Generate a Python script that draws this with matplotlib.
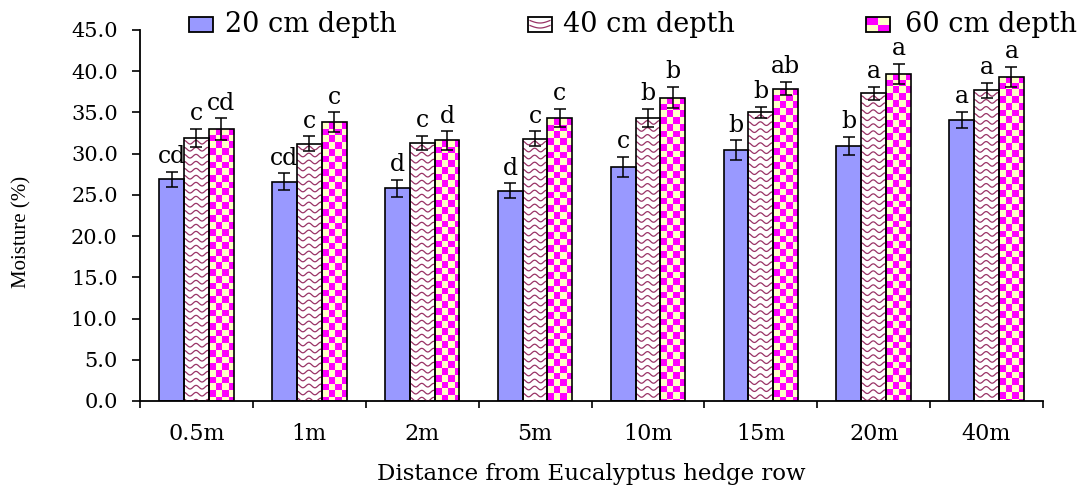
import numpy as np
import matplotlib
matplotlib.use('Agg')
import matplotlib.pyplot as plt
from matplotlib.patches import Rectangle
from matplotlib.colors import ListedColormap
from matplotlib.lines import Line2D

# ---------------- data ----------------
categories = ['0.5m', '1m', '2m', '5m', '10m', '15m', '20m', '40m']
series_names = ['20 cm depth', '40 cm depth', '60 cm depth']
depth20 = [26.9, 26.6, 25.8, 25.5, 28.4, 30.4, 30.9, 34.1]
depth40 = [31.9, 31.2, 31.3, 31.8, 34.3, 35.0, 37.3, 37.7]
depth60 = [33.0, 33.8, 31.6, 34.3, 36.8, 37.9, 39.7, 39.3]
err20 = [0.9, 1.0, 1.0, 0.9, 1.2, 1.2, 1.1, 1.0]
err40 = [1.1, 0.9, 0.9, 0.9, 1.1, 0.7, 0.8, 0.9]
err60 = [1.3, 1.2, 1.1, 1.1, 1.3, 0.8, 1.2, 1.2]
letters20 = ['cd', 'cd', 'd', 'd', 'c', 'b', 'b', 'a']
letters40 = ['c', 'c', 'c', 'c', 'b', 'b', 'a', 'a']
letters60 = ['cd', 'c', 'd', 'c', 'b', 'ab', 'a', 'a']
ytick_values = [0, 5, 10, 15, 20, 25, 30, 35, 40, 45]
xlabel = 'Distance from Eucalyptus hedge row'
ylabel = 'Moisture (%)'

# ---------------- style ----------------
W, H = 1091, 491
DPI = 100
BLUE = '#9999ff'
MAROON = '#993366'
MAGENTA = '#ff00ff'
LYELLOW = '#ffffc8'
SERIF = ['DejaVu Serif']

fig = plt.figure(figsize=(W / DPI, H / DPI), dpi=DPI)
ax_l, ax_r, ax_b, ax_t = 140, 1043, 401, 30
ax = fig.add_axes([ax_l / W, (H - ax_b) / H, (ax_r - ax_l) / W, (ax_b - ax_t) / H])

ncat = len(categories)
ax.set_xlim(0, ncat)
ax.set_ylim(0, 45)

px_x = (ax_r - ax_l) / ncat   # pixels per x unit
px_y = (ax_b - ax_t) / 45.0   # pixels per y unit

bw = 0.22
centers = np.arange(ncat) + 0.5
offsets = [-bw, 0.0, bw]
values = [depth20, depth40, depth60]
errs = [err20, err40, err60]
letters = [letters20, letters40, letters60]

checker_cmap = ListedColormap([LYELLOW, MAGENTA])


def add_checker(rect):
    x0, y0 = rect.get_x(), rect.get_y()
    w, h = rect.get_width(), rect.get_height()
    sq = 6.7
    sqx, sqy = sq / px_x, sq / px_y
    nc = max(1, int(round(w * px_x / sq)))
    nr = int(np.ceil(h * px_y / sq)) + 1
    arr = np.add.outer(np.arange(nr), np.arange(nc)) % 2
    top = y0 + h
    im = ax.imshow(arr, cmap=checker_cmap, vmin=0, vmax=1, origin='upper',
                   extent=[x0, x0 + nc * sqx, top - nr * sqy, top],
                   aspect='auto', interpolation='nearest', zorder=2.5)
    im.set_clip_path(rect)


def add_waves(rect):
    x0, y0 = rect.get_x(), rect.get_y()
    w, h = rect.get_width(), rect.get_height()
    period = 12.0 / px_x
    amp = 1.8 / px_y
    spacing = 7.0 / px_y
    xs = np.linspace(x0, x0 + w, 60)
    for yc in np.arange(y0 + h - spacing * 0.6, y0 - spacing, -spacing):
        ys = yc + amp * np.cos(2 * np.pi * (xs - x0) / period)
        ln, = ax.plot(xs, ys, color=MAROON, lw=0.9, zorder=2.6)
        ln.set_clip_path(rect)


for s in range(3):
    xs = centers + offsets[s]
    face = [BLUE, 'white', LYELLOW][s]
    bars = ax.bar(xs, values[s], width=bw, color=face, edgecolor='none', zorder=2)
    for rect in bars:
        if s == 1:
            add_waves(rect)
        elif s == 2:
            add_checker(rect)
    ax.bar(xs, values[s], width=bw, fill=False, edgecolor='black', lw=1.2, zorder=3)
    ax.errorbar(xs, values[s], yerr=errs[s], fmt='none', ecolor='black',
                elinewidth=1.1, capsize=4, capthick=1.1, zorder=4)
    for x, v, e, t in zip(xs, values[s], errs[s], letters[s]):
        ax.text(x, v + e + 0.45, t, ha='center', va='bottom', fontsize=17,
                family=SERIF, color='black', zorder=5)

ax.set_xlim(0, ncat)
ax.set_ylim(0, 45)

# axes styling
for sp in ['top', 'right']:
    ax.spines[sp].set_visible(False)
for sp in ['left', 'bottom']:
    ax.spines[sp].set_linewidth(1.3)
    ax.spines[sp].set_color('black')

ax.set_yticks(ytick_values)
ax.set_yticklabels([f'{v:.1f}' for v in ytick_values], family=SERIF, fontsize=15)
ax.tick_params(axis='y', direction='out', length=6, width=1.2, pad=10)

ax.set_xticks(np.arange(ncat + 1))
ax.set_xticklabels([''] * (ncat + 1))
ax.tick_params(axis='x', which='major', direction='out', length=5, width=1.2)
ax.set_xticks(centers, minor=True)
ax.set_xticklabels(categories, minor=True, family=SERIF, fontsize=16)
ax.tick_params(axis='x', which='minor', length=0, pad=16)

ax.set_xlabel(xlabel, family=SERIF, fontsize=16.5)
ax.xaxis.set_label_coords(0.5, -(463 - ax_b) / (ax_b - ax_t))
ax.set_ylabel(ylabel, family=['Liberation Serif'], fontsize=15)
ax.yaxis.set_label_coords(-(ax_l - 31) / (ax_r - ax_l), 0.455)

# ---------------- legend (manual, top) ----------------
def fx(px):
    return np.asarray(px) / W


def fy(py):
    return (H - np.asarray(py)) / H


hw, hh = 24, 15
htop = 17
handle_x = [189, 528, 866]
text_x = [225, 563, 905]

# 20 cm handle
fig.add_artist(Rectangle((fx(handle_x[0]), fy(htop + hh)), hw / W, hh / H,
                         transform=fig.transFigure, facecolor=BLUE,
                         edgecolor='black', lw=1.3))
# 40 cm handle
fig.add_artist(Rectangle((fx(handle_x[1]), fy(htop + hh)), hw / W, hh / H,
                         transform=fig.transFigure, facecolor='white',
                         edgecolor='black', lw=1.3))
for dy in [3.5, 8.5]:
    xs_h = np.linspace(handle_x[1] + 2, handle_x[1] + hw - 2, 30)
    ys_h = htop + dy + 2.5 * np.abs(np.sin(np.pi * (xs_h - xs_h[0]) / (xs_h[-1] - xs_h[0])))
    fig.add_artist(Line2D(fx(xs_h), fy(ys_h), transform=fig.transFigure,
                          color=MAROON, lw=0.9))
# 60 cm handle: 2x2 checker
cw, ch = hw / 2, hh / 2
for cx, cy, col in [(0, 0, MAGENTA), (1, 0, LYELLOW), (0, 1, LYELLOW), (1, 1, MAGENTA)]:
    fig.add_artist(Rectangle((fx(handle_x[2] + cx * cw), fy(htop + (cy + 1) * ch)),
                             cw / W, ch / H, transform=fig.transFigure,
                             facecolor=col, edgecolor='none'))
fig.add_artist(Rectangle((fx(handle_x[2]), fy(htop + hh)), hw / W, hh / H,
                         transform=fig.transFigure, facecolor='none',
                         edgecolor='black', lw=1.3))

for tx, name in zip(text_x, series_names):
    fig.text(fx(tx), fy(25), name, ha='left', va='center', fontsize=19.5,
             family=SERIF, color='black')

fig.savefig('out.png', dpi=DPI)
